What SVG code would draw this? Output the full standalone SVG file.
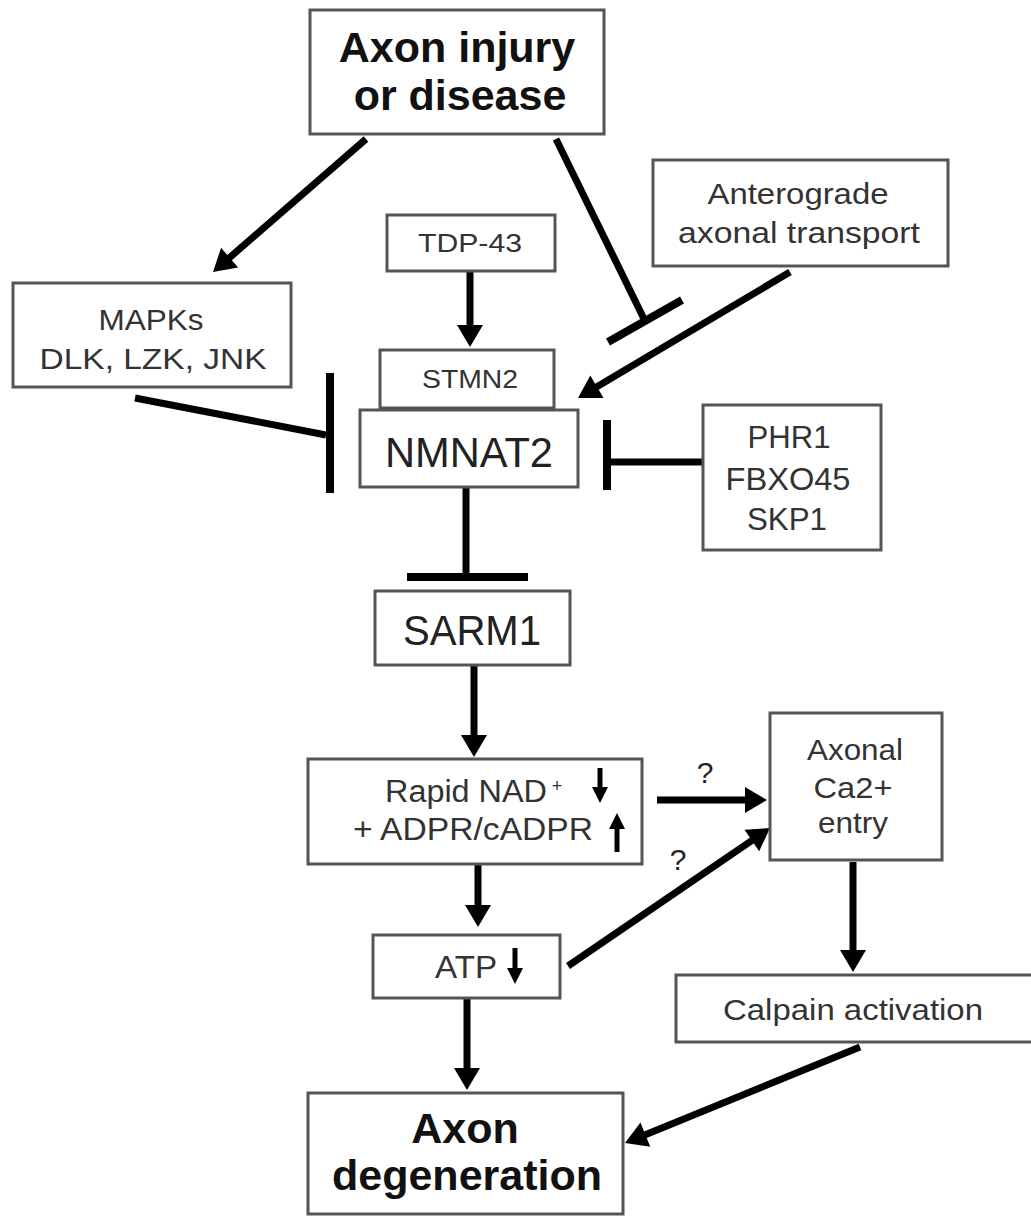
<svg xmlns="http://www.w3.org/2000/svg" width="1031" height="1216" viewBox="0 0 1031 1216">
<style>
.box{fill:#fff;stroke:#555;stroke-width:3}
.main{font-family:"Liberation Sans",Arial,sans-serif;font-weight:bold;font-size:43px;fill:#111;text-anchor:middle}
.mid{font-family:"Liberation Sans",Arial,sans-serif;font-size:42px;fill:#222;text-anchor:middle}
.sm{font-family:"Liberation Sans",Arial,sans-serif;font-size:29px;fill:#333;text-anchor:middle}
.s26{font-size:26px}
.s31{font-size:31px}
.sup{font-size:18px}
.q{font-family:"Liberation Sans",Arial,sans-serif;font-size:30px;fill:#222;text-anchor:middle}
.ln{stroke:#000;stroke-width:7;fill:none}
.bar{stroke:#000;stroke-width:8;fill:none}
.sa{stroke:#000;stroke-width:5;fill:none}
</style>
<defs>
<marker id="ah" markerUnits="userSpaceOnUse" markerWidth="26" markerHeight="30" viewBox="0 -15 24 30" refX="2" refY="0" orient="auto">
<path d="M0,-13 L22,0 L0,13 z" fill="#000"/>
</marker>
</defs>

<g id="connectors">
<line class="ln" x1="366" y1="139" x2="228.1" y2="258.9" marker-end="url(#ah)"/>
<line class="ln" x1="556" y1="139" x2="645" y2="321"/>
<line class="bar" x1="608" y1="342" x2="682" y2="300"/>
<line class="ln" x1="790" y1="272" x2="595.2" y2="387.8" marker-end="url(#ah)"/>
<line class="ln" x1="470" y1="272" x2="470" y2="327" marker-end="url(#ah)"/>
<line class="ln" x1="135" y1="398" x2="326" y2="435"/>
<line class="bar" x1="330" y1="373" x2="330" y2="493"/>
<line class="ln" x1="702" y1="462" x2="607" y2="462"/>
<line class="bar" x1="607" y1="420" x2="607" y2="490"/>
<line class="ln" x1="466" y1="488" x2="466" y2="577"/>
<line class="bar" x1="407" y1="577" x2="528" y2="577"/>
<line class="ln" x1="474" y1="665" x2="474" y2="737" marker-end="url(#ah)"/>
<line class="ln" x1="478" y1="865" x2="478" y2="907" marker-end="url(#ah)"/>
<line class="ln" x1="467" y1="998" x2="467" y2="1070" marker-end="url(#ah)"/>
<line class="ln" x1="657" y1="800" x2="747" y2="800" marker-end="url(#ah)"/>
<line class="ln" x1="568" y1="966" x2="753.5" y2="839.3" marker-end="url(#ah)"/>
<line class="ln" x1="853" y1="862" x2="853" y2="952" marker-end="url(#ah)"/>
<line class="ln" x1="860" y1="1047" x2="643.5" y2="1135.4" marker-end="url(#ah)"/>
<text class="q" x="705" y="783">?</text>
<text class="q" x="678" y="870">?</text>
</g>

<g id="injury">
<rect class="box" x="310" y="10" width="294" height="124"/>
<text class="main" x="457" y="62">Axon injury</text>
<text class="main" x="460" y="110">or disease</text>
</g>

<g id="anterograde">
<rect class="box" x="653" y="160" width="295" height="106"/>
<text class="sm" x="798" y="204" textLength="181" lengthAdjust="spacingAndGlyphs">Anterograde</text>
<text class="sm" x="799" y="243" textLength="242" lengthAdjust="spacingAndGlyphs">axonal transport</text>
</g>

<g id="tdp43">
<rect class="box" x="387" y="215" width="168" height="56"/>
<text class="sm s26" x="470" y="252" textLength="104" lengthAdjust="spacingAndGlyphs">TDP-43</text>
</g>

<g id="mapks">
<rect class="box" x="13" y="283" width="278" height="104"/>
<text class="sm" x="151" y="330" textLength="105" lengthAdjust="spacingAndGlyphs">MAPKs</text>
<text class="sm" x="153" y="369" textLength="227" lengthAdjust="spacingAndGlyphs">DLK, LZK, JNK</text>
</g>

<g id="stmn2">
<rect class="box" x="380" y="350" width="174" height="58"/>
<text class="sm s26" x="470" y="388" textLength="96" lengthAdjust="spacingAndGlyphs">STMN2</text>
</g>

<g id="nmnat2">
<rect class="box" x="360" y="410" width="218" height="77"/>
<text class="mid" x="469" y="467" textLength="168" lengthAdjust="spacingAndGlyphs">NMNAT2</text>
</g>

<g id="phr1">
<rect class="box" x="703" y="405" width="178" height="145"/>
<text class="sm s31" x="789" y="448" textLength="83" lengthAdjust="spacingAndGlyphs">PHR1</text>
<text class="sm s31" x="788" y="490" textLength="125" lengthAdjust="spacingAndGlyphs">FBXO45</text>
<text class="sm s31" x="787" y="530" textLength="80" lengthAdjust="spacingAndGlyphs">SKP1</text>
</g>

<g id="sarm1">
<rect class="box" x="375" y="591" width="195" height="74"/>
<text class="mid" x="472" y="645" textLength="138" lengthAdjust="spacingAndGlyphs">SARM1</text>
</g>

<g id="rapid">
<rect class="box" x="308" y="759" width="334" height="105"/>
<text class="sm s31" x="466" y="802" textLength="162" lengthAdjust="spacingAndGlyphs">Rapid NAD</text>
<text class="sm sup" x="557" y="792">+</text>
<text class="sm s31" x="473" y="840" textLength="240" lengthAdjust="spacingAndGlyphs">+ ADPR/cADPR</text>
<line class="sa" x1="600" y1="768" x2="600" y2="792"/>
<path d="M592,787 L608,787 L600,803 z" fill="#000"/>
<line class="sa" x1="617" y1="826" x2="617" y2="852"/>
<path d="M609,829 L625,829 L617,813 z" fill="#000"/>
</g>

<g id="calcium">
<rect class="box" x="770" y="713" width="172" height="147"/>
<text class="sm" x="855" y="760" textLength="96" lengthAdjust="spacingAndGlyphs">Axonal</text>
<text class="sm" x="853" y="798" textLength="79" lengthAdjust="spacingAndGlyphs">Ca2+</text>
<text class="sm" x="853" y="833" textLength="70" lengthAdjust="spacingAndGlyphs">entry</text>
</g>

<g id="atp">
<rect class="box" x="373" y="935" width="187" height="63"/>
<text class="sm s31" x="466" y="978" textLength="62" lengthAdjust="spacingAndGlyphs">ATP</text>
<line class="sa" x1="515" y1="948" x2="515" y2="972"/>
<path d="M507,968 L523,968 L515,984 z" fill="#000"/>
</g>

<g id="calpain">
<rect class="box" x="676" y="975" width="360" height="67"/>
<text class="sm" x="853" y="1020" textLength="260" lengthAdjust="spacingAndGlyphs">Calpain activation</text>
</g>

<g id="degeneration">
<rect class="box" x="308" y="1093" width="315" height="121"/>
<text class="main" x="465" y="1143">Axon</text>
<text class="main" x="467" y="1190">degeneration</text>
</g>
</svg>
